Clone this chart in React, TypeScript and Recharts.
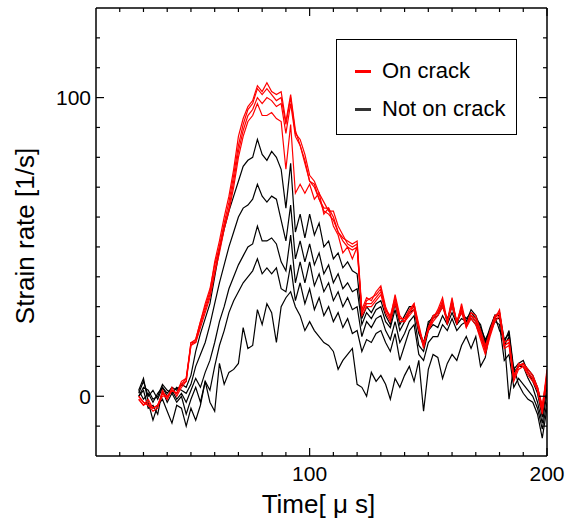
import { LineChart, Line, XAxis, YAxis, Legend } from "recharts";

// time in microseconds
const times = [
  28, 30, 32, 34, 36, 38, 40, 42, 44, 46,
  48, 50, 52, 54, 56, 58, 60, 62, 64, 66,
  68, 70, 72, 74, 76, 78, 80, 82, 84, 86,
  88, 90, 92, 94, 96, 98, 100, 102, 104, 106,
  108, 110, 112, 114, 116, 118, 120, 122, 124, 126,
  128, 130, 132, 134, 136, 138, 140, 142, 144, 146,
  148, 150, 152, 154, 156, 158, 160, 162, 164, 166,
  168, 170, 172, 174, 176, 178, 180, 182, 184, 186,
  188, 190, 192, 194, 196, 198, 200,
];

// on crack
const red1 = [
  -1, -3, -2, -4, -3, 1, 0, 2, 1, 4,
  6, 17, 19, 25, 30, 35, 45, 52, 60, 67,
  76, 87, 93, 97, 99, 104, 102, 105, 102, 101,
  102, 92, 101, 89, 84, 78, 72, 71, 66, 63,
  63, 60, 55, 53, 52, 51, 52, 29, 33, 32,
  35, 37, 30, 26, 34, 27, 25, 28, 31, 24,
  17, 22, 26, 29, 33, 25, 33, 24, 31, 24,
  28, 27, 22, 17, 21, 26, 29, 18, 19, 7,
  10, 11, 9, 7, 3, -4, 9,
];
const red2 = [
  0, -2, -3, -5, -4, 2, -1, 3, 0, 3,
  5, 18, 18, 24, 29, 34, 42, 50, 58, 65,
  74, 84, 91, 96, 98, 103, 101, 103, 101, 99,
  100, 91, 100, 88, 86, 81, 74, 72, 68, 65,
  62, 62, 57, 54, 51, 50, 51, 28, 32, 33,
  34, 36, 29, 27, 33, 26, 26, 29, 31, 23,
  16, 23, 27, 28, 32, 24, 32, 25, 30, 23,
  27, 26, 21, 16, 22, 27, 28, 17, 18, 6,
  11, 10, 8, 6, 2, -5, 8,
];
const red3 = [
  -1, -3, -1, -4, -3, 0, 0, 2, 1, 5,
  6, 18, 19, 25, 31, 36, 44, 50, 57, 63,
  72, 82, 89, 94, 96, 100, 98, 100, 99, 97,
  98, 88, 98, 87, 84, 79, 72, 70, 66, 62,
  61, 59, 55, 52, 50, 49, 50, 28, 31, 31,
  33, 35, 29, 26, 32, 26, 26, 28, 30, 23,
  17, 23, 26, 28, 31, 25, 31, 25, 29, 24,
  27, 25, 20, 15, 21, 26, 28, 17, 18, 6,
  10, 11, 8, 6, 3, -3, 7,
];
const red4 = [
  0, -2, -3, -4, -3, 1, -1, 2, 1, 4,
  5, 17, 18, 23, 28, 33, 41, 48, 56, 62,
  70, 80, 87, 92, 94, 98, 94, 94, 95, 93,
  92, 76, 91, 68, 71, 68, 71, 66, 68, 61,
  63, 57, 54, 48, 50, 46, 50, 27, 30, 30,
  32, 34, 28, 25, 31, 25, 25, 27, 29, 22,
  18, 22, 25, 27, 30, 25, 30, 25, 28, 23,
  26, 24, 19, 14, 20, 25, 27, 16, 17, 5,
  9, 10, 7, 5, 2, -6, 6,
];

// not on crack
const black1 = [
  1, 5, 0, 2, -1, 3, 1, 3, 2, 4,
  3, 7, 15, 21, 26, 31, 40, 49, 56, 62,
  67, 72, 77, 79, 80, 86, 81, 79, 82, 80,
  76, 63, 78, 55, 61, 53, 61, 54, 58, 50,
  52, 46, 48, 43, 45, 42, 41, 26, 30, 28,
  31, 32, 27, 24, 31, 24, 27, 30, 30, 22,
  18, 24, 27, 28, 31, 25, 32, 24, 29, 25,
  29, 27, 23, 19, 22, 27, 28, 19, 21, 8,
  10, 11, 9, 7, 3, -4, 5,
];
const black2 = [
  0, 3, 2, -1, 0, 4, 2, 1, 3, 2,
  1, 4, 10, 14, 18, 24, 31, 38, 44, 50,
  55, 60, 63, 64, 66, 71, 67, 65, 67, 66,
  59, 52, 64, 46, 52, 45, 51, 44, 48, 41,
  44, 38, 41, 36, 38, 35, 36, 24, 28, 26,
  29, 30, 25, 23, 29, 22, 25, 28, 29, 21,
  17, 25, 26, 27, 30, 26, 30, 25, 28, 26,
  28, 26, 24, 18, 23, 27, 27, 18, 22, 9,
  11, 12, 8, 5, 1, -7, 3,
];
const black3 = [
  2, -1, 1, -2, 1, 3, 0, 2, -1, 1,
  -2, 2, 6, 3, 8, 12, 18, 25, 30, 36,
  40, 44, 47, 50, 51, 57, 52, 52, 53, 51,
  45, 42, 54, 38, 45, 38, 45, 37, 41, 35,
  38, 32, 35, 30, 33, 29, 30, 20, 25, 23,
  26, 27, 22, 19, 25, 18, 21, 25, 27, 17,
  15, 22, 24, 23, 27, 24, 28, 24, 26, 25,
  27, 25, 22, 17, 22, 26, 26, 17, 20, 7,
  10, 10, 6, 3, -2, -9, 1,
];
const black4 = [
  0, 2, -4, -3, -6, 2, -2, 1, -2, 0,
  -6, -1, 3, -2, 5, 2, 10, 17, 22, 28,
  32, 35, 38, 40, 42, 46, 41, 43, 41, 43,
  36, 35, 44, 32, 38, 31, 36, 29, 33, 27,
  30, 25, 28, 23, 26, 21, 22, 15, 19, 18,
  21, 22, 18, 15, 21, 12, 17, 22, 24, 14,
  12, 18, 20, 20, 24, 22, 26, 22, 24, 25,
  26, 24, 20, 16, 21, 25, 24, 12, 14, 3,
  6, 4, 2, 0, -4, -11, -2,
];
const black5 = [
  2, 6, -2, -8, -3, -1, -5, -9, -3, -4,
  -10, -4, -8, -3, 5, -2, -5, 11, 4, 8,
  9, 11, 23, 16, 17, 29, 24, 31, 28, 18,
  30, 33, 35, 30, 27, 22, 25, 22, 20, 18,
  17, 15, 9, 12, 14, 16, 4, 3, 0, 8,
  5, 7, 4, -1, 6, 3, 7, 10, 5, 12,
  -5, 9, 14, 13, 6, 11, 14, 12, 17, 20,
  16, 20, 10, 13, 22, 27, 22, 19, -1, 10,
  4, 1, -1, -2, -6, -14, -4,
];

const redLines = [red1, red2, red3, red4];
const blackLines = [black1, black2, black3, black4, black5];

const xTicks = [20, 30, 40, 50, 60, 70, 80, 90, 100, 110, 120, 130, 140, 150, 160, 170, 180, 190, 200];
const xLabeled = [100, 200];
const yTicks = [-10, 0, 10, 20, 30, 40, 50, 60, 70, 80, 90, 100, 110, 120];
const yLabeled = [0, 100];

const legendItems = [
  { name: "On crack", color: "#ff0000" },
  { name: "Not on crack", color: "#333333" },
];

const data = times.map((t, i) => {
  const row: Record<string, number> = { t };
  blackLines.forEach((s, k) => (row[`b${k}`] = s[i]));
  redLines.forEach((s, k) => (row[`r${k}`] = s[i]));
  return row;
});

const FONT = "'Liberation Sans', Arial, sans-serif";

function XTick(props: any) {
  const { x, y, payload, top } = props;
  const major = xLabeled.includes(payload.value);
  const len = major ? 8 : 4;
  return (
    <g>
      <line x1={x} x2={x} y1={y} y2={top ? y + len : y - len} stroke="#000" strokeWidth={1.2} />
      {!top && major && (
        <text x={x} y={y + 25} textAnchor="middle" fontSize={21} fill="#000" fontFamily={FONT}>
          {payload.value}
        </text>
      )}
    </g>
  );
}

function YTick(props: any) {
  const { x, y, payload, right } = props;
  const major = yLabeled.includes(payload.value);
  const len = major ? 8 : 4;
  return (
    <g>
      <line x1={x} x2={right ? x - len : x + len} y1={y} y2={y} stroke="#000" strokeWidth={1.2} />
      {!right && major && (
        <text x={x - 5} y={y + 7.5} textAnchor="end" fontSize={21} fill="#000" fontFamily={FONT}>
          {payload.value}
        </text>
      )}
    </g>
  );
}

function XTitle(props: any) {
  const { viewBox } = props;
  return (
    <text x={viewBox.x + viewBox.width / 2 - 3} y={viewBox.y + 57} textAnchor="middle" fontSize={26} fill="#000" fontFamily={FONT}>
      Time[ μ s]
    </text>
  );
}

function YTitle(props: any) {
  const { viewBox } = props;
  const cx = viewBox.x + 34;
  const cy = viewBox.y + viewBox.height / 2 + 4;
  return (
    <text x={cx} y={cy} transform={`rotate(-90, ${cx}, ${cy})`} textAnchor="middle" fontSize={26} fill="#000" fontFamily={FONT}>
      Strain rate [1/s]
    </text>
  );
}

function LegendBox() {
  return (
    <div
      style={{
        boxSizing: "border-box",
        width: 181,
        height: 96,
        border: "1.5px solid #000",
        background: "#fff",
        padding: "12px 0 0 18px",
        fontFamily: FONT,
        fontSize: 22,
        color: "#000",
      }}
    >
      {legendItems.map((it) => (
        <div key={it.name} style={{ display: "flex", alignItems: "center", height: 38 }}>
          <span style={{ display: "inline-block", width: 16, height: 3, background: it.color, marginRight: 11 }} />
          <span>{it.name}</span>
        </div>
      ))}
    </div>
  );
}

export default function App() {
  return (
    <div style={{ position: "absolute", left: 0, top: 0, background: "#fff", fontFamily: FONT }}>
      <LineChart width={567} height={525} data={data} margin={{ top: 7, right: 19, bottom: 0, left: 0 }}>
        <XAxis
          dataKey="t"
          type="number"
          domain={[10, 200]}
          ticks={xTicks}
          interval={0}
          allowDataOverflow
          height={69}
          tickSize={0}
          tickMargin={0}
          tickLine={false}
          tick={<XTick />}
          axisLine={{ stroke: "#000", strokeWidth: 1.5 }}
          label={<XTitle />}
        />
        <XAxis
          xAxisId="top"
          dataKey="t"
          orientation="top"
          type="number"
          domain={[10, 200]}
          ticks={xTicks}
          interval={0}
          allowDataOverflow
          height={1}
          tickSize={0}
          tickMargin={0}
          tickLine={false}
          tick={<XTick top />}
          axisLine={{ stroke: "#000", strokeWidth: 1.5 }}
        />
        <YAxis
          type="number"
          domain={[-20, 130]}
          ticks={yTicks}
          interval={0}
          allowDataOverflow
          width={96}
          tickSize={0}
          tickMargin={0}
          tickLine={false}
          tick={<YTick />}
          axisLine={{ stroke: "#000", strokeWidth: 1.5 }}
          label={<YTitle />}
        />
        <YAxis
          yAxisId="right"
          orientation="right"
          type="number"
          domain={[-20, 130]}
          ticks={yTicks}
          interval={0}
          allowDataOverflow
          width={1}
          tickSize={0}
          tickMargin={0}
          tickLine={false}
          tick={<YTick right />}
          axisLine={{ stroke: "#000", strokeWidth: 1.5 }}
        />
        <Legend
          layout="vertical"
          align="center"
          verticalAlign="middle"
          content={<LegendBox />}
          wrapperStyle={{ left: 336, top: 39, width: 181, height: 96 }}
        />
        {blackLines.map((_, k) => (
          <Line
            key={`b${k}`}
            dataKey={`b${k}`}
            type="linear"
            stroke="#000"
            strokeWidth={1.2}
            dot={false}
            legendType="none"
            isAnimationActive={false}
          />
        ))}
        {/* same domains as the bottom/left axes; bound here so the frame axes render */}
        {redLines.map((_, k) => (
          <Line
            key={`r${k}`}
            dataKey={`r${k}`}
            xAxisId="top"
            yAxisId="right"
            type="linear"
            stroke="#ff0000"
            strokeWidth={1.2}
            dot={false}
            legendType="none"
            isAnimationActive={false}
          />
        ))}
      </LineChart>
    </div>
  );
}
